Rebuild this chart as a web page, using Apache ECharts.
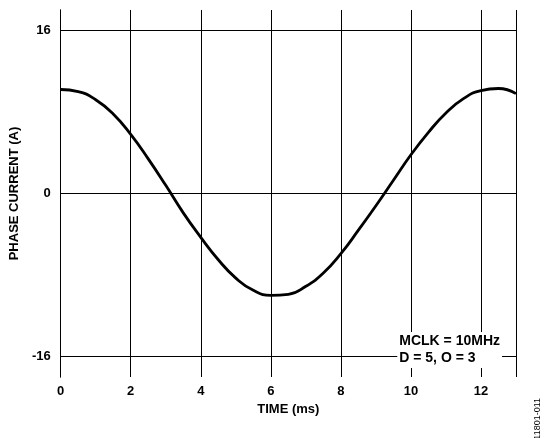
<!DOCTYPE html>
<html><head><meta charset="utf-8">
<script src="https://cdn.jsdelivr.net/npm/echarts@6/dist/echarts.min.js"></script>
<style>html,body{margin:0;padding:0;background:#fff}#c{width:550px;height:438px}</style>
</head><body><div id="c"></div>
<script>
const timeMs = [0,0.5,1,1.5,2,2.5,3,3.5,4,4.5,5,5.5,6,6.5,7,7.5,8,8.5,9,9.5,10,10.5,11,11.5,12,12.5,13];
const currentA = [10.2,10.0,9.2,7.8,5.8,3.4,0.8,-1.9,-4.3,-6.5,-8.3,-9.5,-10.0,-9.9,-9.1,-7.8,-5.9,-3.6,-1.2,1.3,3.8,6.0,7.9,9.3,10.1,10.3,9.8];
const yTicks = [-16,0,16];
const f = 'Liberation Sans, Arial, sans-serif';
const chart = echarts.init(document.getElementById('c'));
chart.setOption({
  animation:false,
  grid:{left:57,right:34,top:10,bottom:61,containLabel:false},
  xAxis:[{type:'value',min:0,max:13,interval:2,
    name:'TIME (ms)',nameLocation:'middle',nameGap:22,
    nameTextStyle:{fontFamily:f,fontWeight:'bold',fontSize:13,color:'#000'},
    axisLine:{show:true,lineStyle:{color:'#000',width:1}},
    axisTick:{show:false},
    axisLabel:{fontFamily:f,fontWeight:'bold',fontSize:13,color:'#000',margin:8,
      formatter:v=>v<=12?String(v):''},
    splitLine:{show:true,lineStyle:{color:'#000',width:1}}},
    {type:'value',position:'top',min:0,max:13,axisLine:{show:true,lineStyle:{color:'#000'}},
     axisTick:{show:false},axisLabel:{show:false},splitLine:{show:false}}],
  yAxis:[{type:'value',min:-18,max:18,
    name:'PHASE CURRENT (A)',nameLocation:'middle',nameGap:34,
    nameTextStyle:{fontFamily:f,fontWeight:'bold',fontSize:13,color:'#000'},
    axisLine:{show:true,lineStyle:{color:'#000',width:1}},
    axisTick:{show:false},
    axisLabel:{fontFamily:f,fontWeight:'bold',fontSize:13,color:'#000',margin:10,
      customValues:yTicks},
    splitLine:{show:false}},
    {type:'value',position:'right',min:-18,max:18,axisLine:{show:true,lineStyle:{color:'#000'}},
     axisTick:{show:false},axisLabel:{show:false},splitLine:{show:false}}],
  series:[
    {type:'line',data:timeMs.map((t,i)=>[t,currentA[i]]),smooth:true,showSymbol:false,
     lineStyle:{color:'#000',width:2.8},z:3},
    {type:'line',data:[],markLine:{silent:true,symbol:'none',label:{show:false},
      lineStyle:{color:'#000',width:1,type:'solid'},
      data:yTicks.map(v=>({yAxis:v}))}}
  ],
  graphic:[
    {type:'text',right:48,bottom:70,z:10,style:{text:'MCLK = 10MHz\nD = 5, O = 3',
      fontFamily:f,fontWeight:'bold',fontSize:14,fill:'#000',lineHeight:17,
      backgroundColor:'#fff',padding:[1,2]}},
    {type:'text',left:533,top:398,rotation:Math.PI/2,style:{text:'11801-011',
      fontFamily:f,fontSize:9,fill:'#000'}}
  ]
});
</script></body></html>
